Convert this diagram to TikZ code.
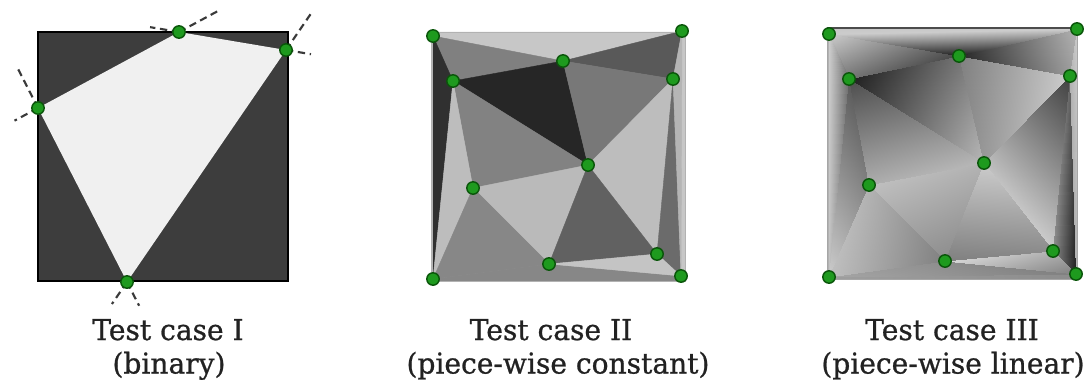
\documentclass[tikz,border=0pt]{standalone}
\usepackage{fontspec}
\newfontfamily\labelfont[FakeStretch=0.98,FakeBold=0.8]{DejaVu Serif}
\usepackage{pgfplots}
\pgfplotsset{compat=1.18}
\usetikzlibrary{calc}
\definecolor{dotgreen}{HTML}{1E9A1E}
\definecolor{dotdark}{HTML}{0A560A}
\definecolor{extgray}{HTML}{3A3A3A}
\definecolor{labelgray}{HTML}{222222}
\newcommand\tri[4]{\filldraw[fill=#1,draw=#1,line width=0.3pt,line join=round] (#2)--(#3)--(#4)--cycle;}
\begin{document}
\begin{tikzpicture}[x=0.75pt,y=-0.75pt,
  dot/.style={circle,fill=dotgreen,draw=dotdark,line width=1.1pt,inner sep=0pt,minimum size=9.3pt},
  ext/.style={draw=extgray,line width=1.6pt,dash pattern=on 5.5pt off 3.5pt},
  lbl/.style={font=\labelfont\fontsize{21.5}{26}\selectfont,text=labelgray,inner sep=0pt,anchor=base}]
\useasboundingbox (0,0) rectangle (1084,382);
\fill[white] (0,0) rectangle (1084,382);

% ---------- Panel 1 (binary) ----------
\fill[black!76] (38,32) rectangle (288,281);
\coordinate (at) at (179,32);
\coordinate (ar) at (286,50);
\coordinate (ab) at (127,282);
\coordinate (al) at (38,108);
\fill[black!6] (at) -- (ar) -- (ab) -- (al) -- cycle;
\draw[black,line width=0.9pt] (38,32) rectangle (288,281);
\draw[ext] (at) -- ($(at)!-22pt!(ar)$);
\draw[ext] (at) -- ($(at)!-34pt!(al)$);
\draw[ext] (ar) -- ($(ar)!-19pt!(at)$);
\draw[ext] (ar) -- ($(ar)!-36pt!(ab)$);
\draw[ext] (al) -- ($(al)!-20pt!(at)$);
\draw[ext] (al) -- ($(al)!-34pt!(ab)$);
\draw[ext] (ab) -- ($(ab)!-20pt!(al)$);
\draw[ext] (ab) -- ($(ab)!-20pt!(ar)$);
\node[dot] (atd) at (at) {};
\node[dot] (ard) at (ar) {};
\node[dot] (abd) at (ab) {};
\node[dot] (ald) at (al) {};

% ---------- Panel 2 (piece-wise constant) ----------
\coordinate (bA) at (433,36);
\coordinate (bB) at (682,31);
\coordinate (bC) at (563,61);
\coordinate (bD) at (453,81);
\coordinate (bE) at (673,79);
\coordinate (bF) at (588,165);
\coordinate (bG) at (473,188);
\coordinate (bH) at (549,264);
\coordinate (bI) at (657,254);
\coordinate (bJ) at (433,279);
\coordinate (bK) at (681,276);
\fill[black!22] (431,32) rectangle (685,281);
\filldraw[fill=black!22,draw=black!22,line width=0.3pt] (431,32) -- (685,32) -- (bB) -- (bC) -- (bA) -- cycle;
\filldraw[fill=black!47,draw=black!47,line width=0.3pt] (bJ) -- (bH) -- (bK) -- (685,281) -- (431,281) -- cycle;
\tri{black!50}{bA}{bC}{bD}
\tri{black!81}{bA}{bD}{bJ}
\tri{black!85}{bD}{bC}{bF}
\tri{black!49}{bD}{bF}{bG}
\tri{black!26}{bD}{bG}{bJ}
\tri{black!65}{bC}{bB}{bE}
\tri{black!53}{bC}{bE}{bF}
\tri{black!26}{bE}{bF}{bI}
\tri{black!58}{bE}{bI}{bK}
\tri{black!29}{bB}{bE}{bK}
\tri{black!27}{bF}{bG}{bH}
\tri{black!62}{bF}{bH}{bI}
\tri{black!47}{bG}{bH}{bJ}
\tri{black!23}{bH}{bI}{bK}
\draw[black!30,line width=0.6pt] (431,32) rectangle (685,281);
\foreach \p in {bA,bB,bC,bD,bE,bF,bG,bH,bI,bJ,bK} {\node[dot] (\p d) at (\p) {};}

% ---------- Panel 3 (piece-wise linear) ----------
\fill[black!30] (827,28) rectangle (1077,279);
\begin{axis}[at={(0,0)},anchor=origin,x=0.75pt,y=0.75pt,y dir=reverse,
  xmin=0,xmax=1084,ymin=0,ymax=382,hide axis,clip=false,
  colormap/blackwhite,point meta min=0,point meta max=1]
\addplot[patch,shader=interp,point meta=explicit]
 table[row sep=\\,x=x,y=y,meta=c] {
x y c\\
827 28 .78\\ 1077 28 .78\\ 1077 29 .8\\
827 28 .78\\ 1077 29 .8\\ 829 34 .8\\
829 34 .8\\ 959 56 .12\\ 1077 29 .8\\
829 34 .8\\ 959 56 .28\\ 849 79 .45\\
849 79 .12\\ 959 56 .45\\ 984 163 .72\\
829 34 .8\\ 849 79 .42\\ 829 277 .76\\
849 79 .35\\ 869 185 .5\\ 829 277 .8\\
849 79 .3\\ 984 163 .72\\ 869 185 .68\\
959 56 .15\\ 1077 29 .7\\ 1070 76 .6\\
959 56 .5\\ 1070 76 .8\\ 984 163 .6\\
1070 76 .25\\ 984 163 .75\\ 1053 251 .8\\
1070 76 .4\\ 1053 251 .55\\ 1076 274 .12\\
1077 29 .8\\ 1070 76 .7\\ 1076 274 .7\\
984 163 .7\\ 869 185 .75\\ 945 261 .55\\
984 163 .8\\ 945 261 .5\\ 1053 251 .55\\
869 185 .7\\ 945 261 .5\\ 829 277 .75\\
829 277 .65\\ 945 261 .55\\ 1076 274 .5\\
945 261 .85\\ 1053 251 .7\\ 1076 274 .5\\
829 277 .62\\ 1076 274 .55\\ 1077 279 .55\\
829 277 .62\\ 1077 279 .55\\ 827 279 .62\\
};
\end{axis}
\draw[black!35,line width=0.6pt] (827,28) rectangle (1077,279);
\draw[black!70,line width=1.2pt] (827,28) -- (1077,28);
\coordinate (cA) at (829,34);
\coordinate (cB) at (1077,29);
\coordinate (cC) at (959,56);
\coordinate (cD) at (849,79);
\coordinate (cE) at (1070,76);
\coordinate (cF) at (984,163);
\coordinate (cG) at (869,185);
\coordinate (cH) at (945,261);
\coordinate (cI) at (1053,251);
\coordinate (cJ) at (829,277);
\coordinate (cK) at (1076,274);
\foreach \p in {cA,cB,cC,cD,cE,cF,cG,cH,cI,cJ,cK} {\node[dot] (\p d) at (\p) {};}

% ---------- Labels ----------
\node[lbl] (l1a) at (168,340) {Test case I};
\node[lbl] (l1b) at (169,373.5) {(binary)};
\node[lbl] (l2a) at (551,340) {Test case II};
\node[lbl] (l2b) at (558,373.5) {(piece-wise constant)};
\node[lbl] (l3a) at (952,340) {Test case III};
\node[lbl] (l3b) at (953,373.5) {(piece-wise linear)};
\end{tikzpicture}
\end{document}
